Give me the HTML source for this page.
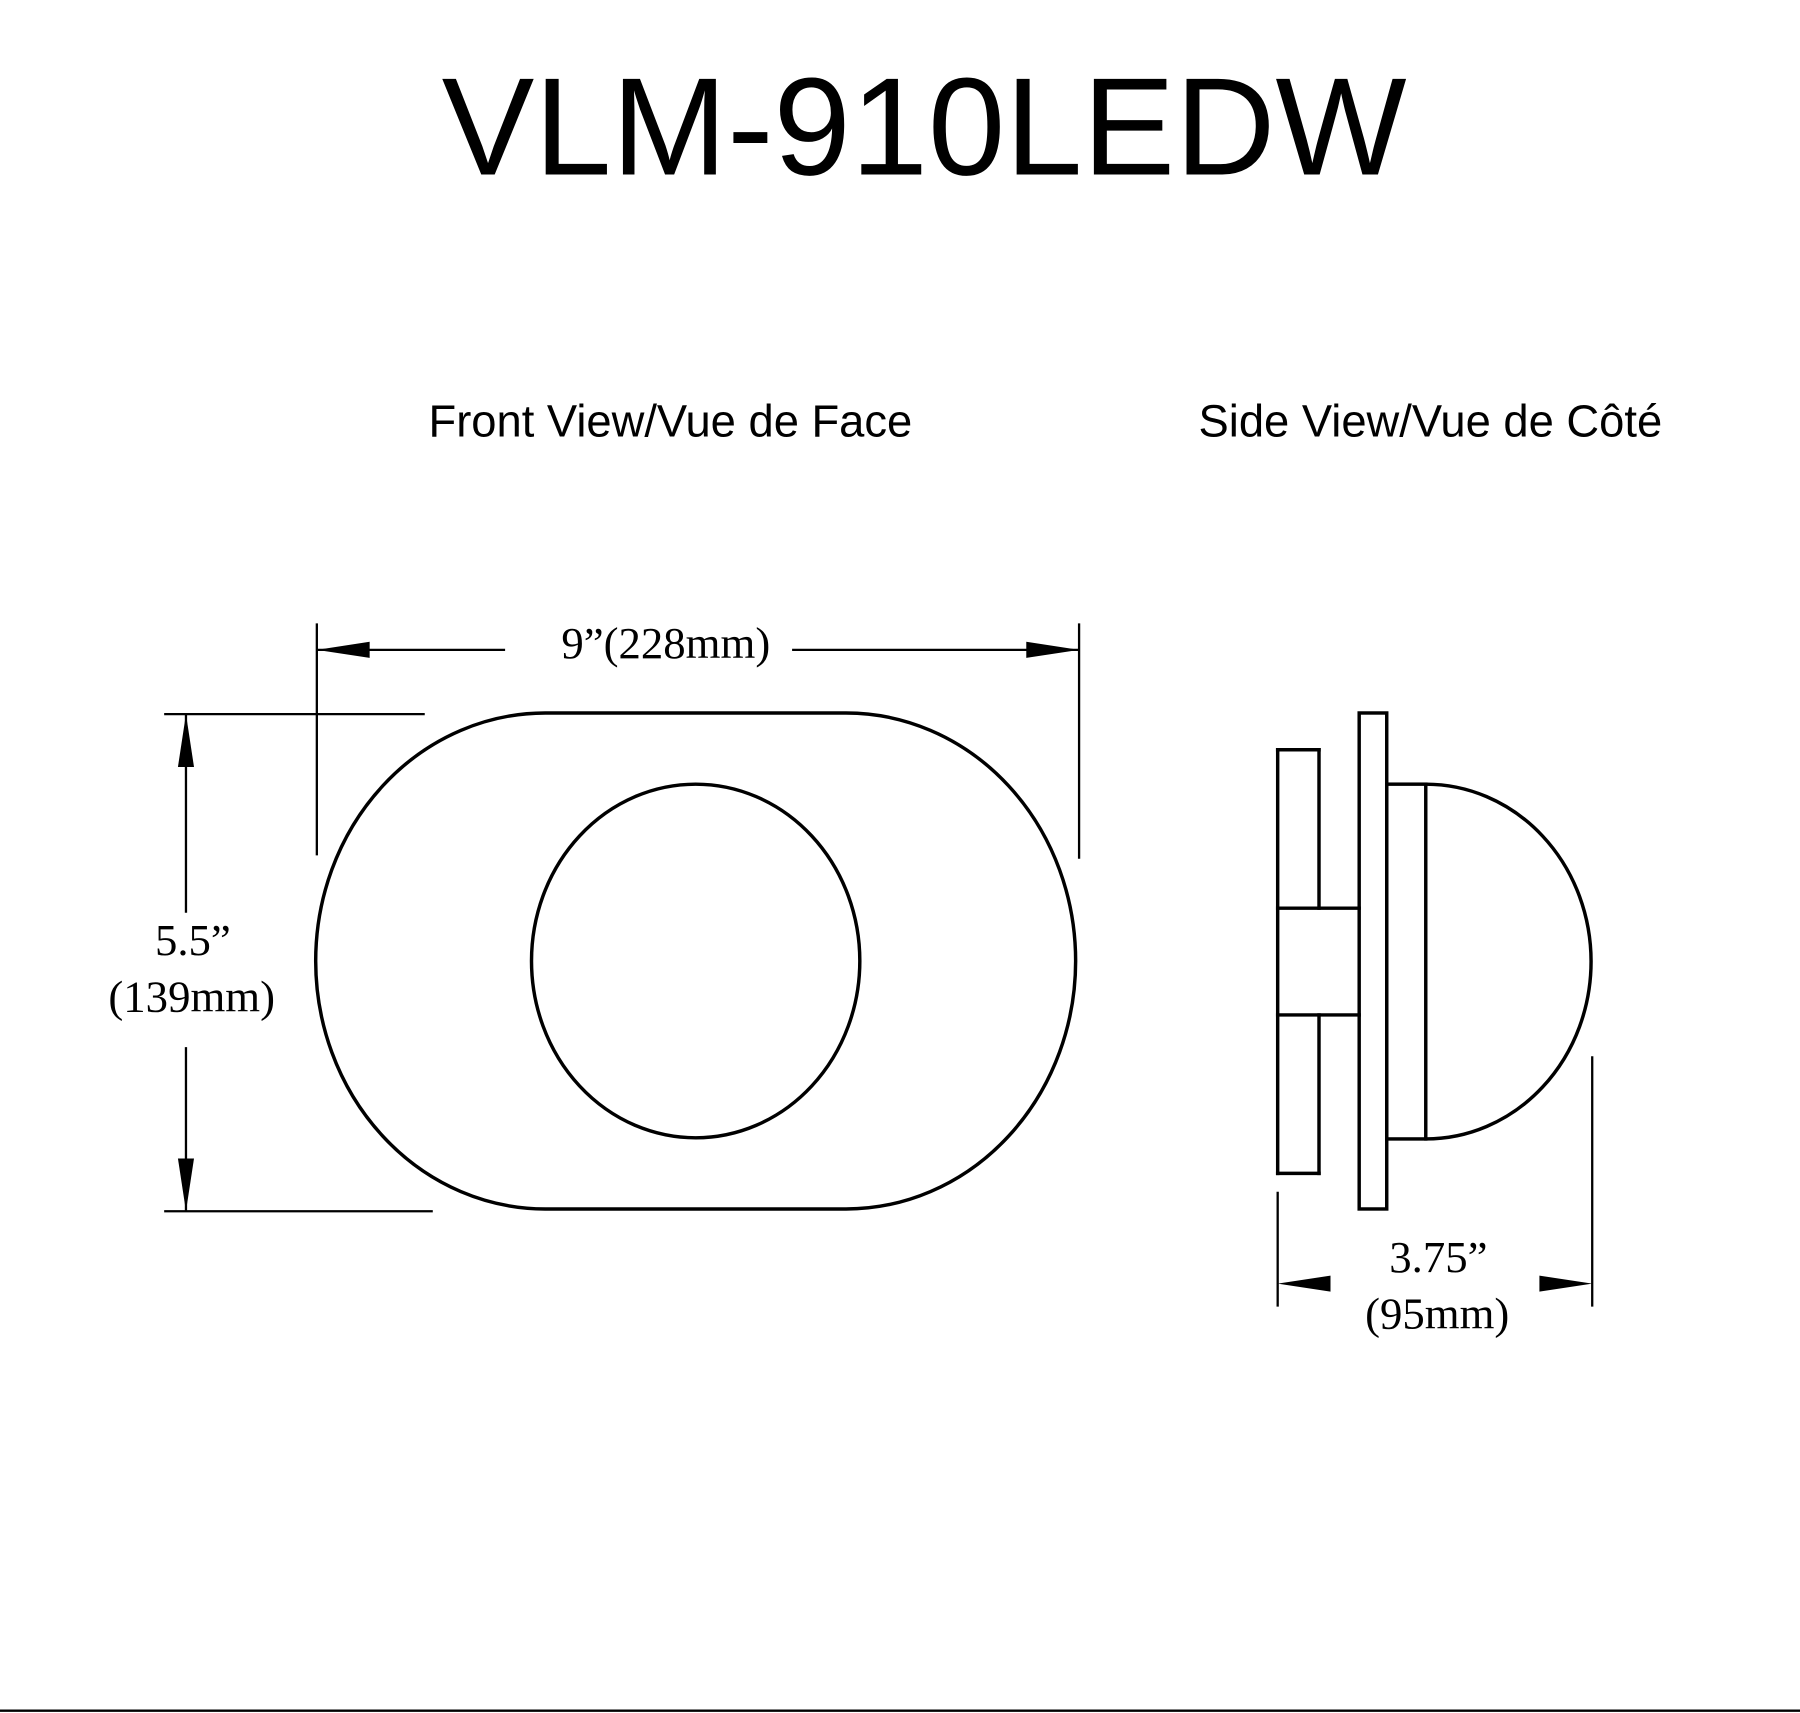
<!DOCTYPE html>
<html><head><meta charset="utf-8"><style>
html,body{margin:0;padding:0;background:#fff;}
svg{display:block;}
</style></head><body>
<svg width="1800" height="1713" viewBox="0 0 1568 1492" preserveAspectRatio="none" xmlns="http://www.w3.org/2000/svg">
<rect width="1568" height="1492" fill="#fff"/>
<text x="805" y="152" font-family="Liberation Sans, sans-serif" font-size="121" text-anchor="middle" fill="#000">VLM-910LEDW</text>
<text x="584" y="380" font-family="Liberation Sans, sans-serif" font-size="39.5" text-anchor="middle" fill="#000">Front View/Vue de Face</text>
<text x="1246" y="380" font-family="Liberation Sans, sans-serif" font-size="39.5" text-anchor="middle" fill="#000">Side View/Vue de Côté</text>
<g fill="none" stroke="#000" stroke-width="3">
<path d="M475,621 L737,621 A200,216 0 0 1 737,1053 L475,1053 A200,216 0 0 1 475,621 Z"/>
<ellipse cx="606" cy="837" rx="143" ry="154"/>
</g>
<g stroke="#000" stroke-width="2" fill="none">
<line x1="276" y1="543" x2="276" y2="745"/>
<line x1="940" y1="543" x2="940" y2="748"/>
<line x1="276" y1="566" x2="440" y2="566"/>
<line x1="690" y1="566" x2="940" y2="566"/>
<line x1="143" y1="622" x2="370" y2="622"/>
<line x1="143" y1="1055" x2="377" y2="1055"/>
<line x1="162" y1="622" x2="162" y2="795"/>
<line x1="162" y1="912" x2="162" y2="1055"/>
<line x1="1113" y1="1038" x2="1113" y2="1138"/>
<line x1="1387" y1="920" x2="1387" y2="1138"/>
</g>
<g fill="#000">
<polygon points="276,566 322,559 322,573"/>
<polygon points="940,566 894,559 894,573"/>
<polygon points="162,622 155,668 169,668"/>
<polygon points="162,1055 155,1009 169,1009"/>
<polygon points="1113,1118 1159,1111 1159,1125"/>
<polygon points="1387,1118 1341,1111 1341,1125"/>
</g>
<g font-family="Liberation Serif, serif" font-size="39" fill="#000" text-anchor="middle">
<text x="580" y="573">9”(228mm)</text>
<text x="168" y="832">5.5”</text>
<text x="167" y="881">(139mm)</text>
<text x="1253" y="1108">3.75”</text>
<text x="1252" y="1157">(95mm)</text>
</g>
<g fill="none" stroke="#000" stroke-width="3" stroke-linecap="square">
<line x1="1113" y1="653" x2="1113" y2="1022"/>
<line x1="1113" y1="653" x2="1149" y2="653"/>
<line x1="1113" y1="1022" x2="1149" y2="1022"/>
<line x1="1149" y1="653" x2="1149" y2="791"/>
<line x1="1149" y1="884" x2="1149" y2="1022"/>
<rect x="1184" y="621" width="24" height="432"/>
<line x1="1113" y1="791" x2="1184" y2="791"/>
<line x1="1113" y1="884" x2="1184" y2="884"/>
<rect x="1208" y="683" width="34" height="309"/>
<path d="M1242,683 A144,154.5 0 0 1 1242,992"/>
</g>
<line x1="0" y1="1490" x2="1568" y2="1490" stroke="#000" stroke-width="2"/>
</svg>
</body></html>
